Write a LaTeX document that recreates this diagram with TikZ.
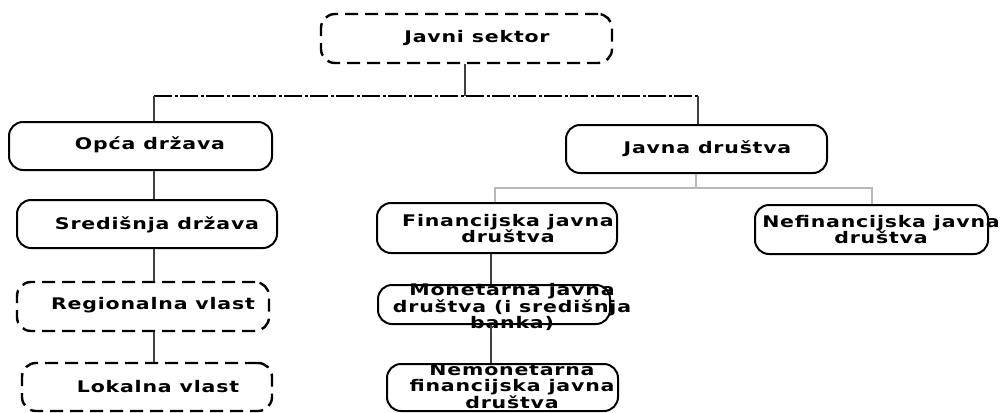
\documentclass[tikz,border=0pt]{standalone}
\usepackage{fontspec}
\newfontfamily\lblfont{DejaVu Sans Bold}[FakeStretch=1.28,LetterSpace=5]
\begin{document}
\begin{tikzpicture}[x=1pt,y=-1pt,
  box/.style={draw=black,line width=2pt,rounded corners=14pt,inner sep=0pt},
  dbox/.style={box,line width=2.4pt,dash pattern=on 13pt off 7pt},
  lbl/.style={font=\lblfont\fontsize{16}{16.5}\selectfont,align=center,inner sep=0pt,text=black},
  conn/.style={draw=black!75,line width=1.4pt},
  gconn/.style={draw=black!28,line width=1.1pt},
  dd/.style={draw=black,line width=2pt,dash pattern=on 18pt off 2.5pt on 3pt off 2.5pt}]
\useasboundingbox (0,0) rectangle (1003,412);
% boxes
\node[dbox,minimum width=291pt,minimum height=49pt] (js) at (466.5,38.5) {};
\node[box,minimum width=263pt,minimum height=48pt] (opca) at (140.5,146) {};
\node[box,minimum width=260pt,minimum height=48pt] (sred) at (147,224) {};
\node[dbox,minimum width=252pt,minimum height=49pt] (reg) at (143,306.5) {};
\node[dbox,minimum width=250pt,minimum height=48pt] (lok) at (147,387) {};
\node[box,minimum width=261pt,minimum height=48pt] (jd) at (696.5,149) {};
\node[box,minimum width=240pt,minimum height=50pt] (fin) at (497,228) {};
\node[box,minimum width=233pt,minimum height=49pt] (nefin) at (871.5,229.5) {};
\node[box,minimum width=232pt,minimum height=39pt] (mon) at (494,304.5) {};
\node[box,minimum width=231pt,minimum height=47pt] (nemon) at (502.5,387.5) {};
% texts
\node[lbl] (jsT) at (477,38) {Javni sektor};
\node[lbl] (opcaT) at (150,145) {Opća država};
\node[lbl] (sredT) at (157,225) {Središnja država};
\node[lbl] (regT) at (153,305) {Regionalna vlast};
\node[lbl] (lokT) at (158,387) {Lokalna vlast};
\node[lbl] (jdT) at (707.5,149) {Javna društva};
\node[lbl] (finT) at (508,228.5) {Financijska javna\\društva};
\node[lbl] (nefinT) at (881,229.5) {Nefinancijska javna\\društva};
\node[lbl] (monT) at (512,307) {Monetarna javna\\društva (i središnja\\banka)};
\node[lbl] (nemonT) at (512,386) {Nemonetarna\\financijska javna\\društva};
% connector coordinates
\coordinate (hub) at (465,96);
\coordinate (hl) at (154,96);
\coordinate (hr) at (698,96);
\coordinate (gl) at (495,188);
\coordinate (gr) at (872,188);
\coordinate (gm) at (696,188);
\coordinate (cl) at (154,0);
\coordinate (cm) at (491,0);
% connectors
\draw[conn] (js.south -| hub) -- (hub);
\draw[dd] (hl) -- (hr);
\draw[conn] (hl) -- (opca.north -| hl);
\draw[conn] (hr) -- (jd.north -| hr);
\draw[conn] (opca.south -| cl) -- (sred.north -| cl);
\draw[conn] (sred.south -| cl) -- (reg.north -| cl);
\draw[conn] (reg.south -| cl) -- (lok.north -| cl);
\draw[gconn] (jd.south -| gm) -- (gm);
\draw[gconn] (fin.north -| gl) -- (gl) -- (gr) -- (nefin.north -| gr);
\draw[conn] (fin.south -| cm) -- (mon.north -| cm);
\draw[conn] (mon.south -| cm) -- (nemon.north -| cm);
\end{tikzpicture}
\end{document}
